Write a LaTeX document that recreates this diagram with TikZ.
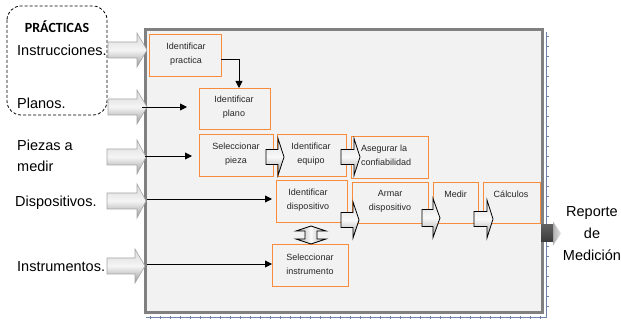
\documentclass[tikz,border=0pt]{standalone}
\usepackage{fontspec}
\setmainfont{Liberation Sans}
\newfontfamily\calib{Carlito}
\usetikzlibrary{arrows.meta}
\definecolor{obord}{RGB}{247,140,60}
\definecolor{panel}{RGB}{242,242,242}
\definecolor{rulerc}{RGB}{110,130,170}
\newcommand\barr[7]{\path[#7] (#1,#4-#5) -- (#2,#4-#5) -- (#2,#4-#6) -- (#3,#4) -- (#2,#4+#6) -- (#2,#4+#5) -- (#1,#4+#5) -- cycle;}
\tikzset{
  box/.style={draw=obord, line width=1pt, fill=panel, inner sep=0pt, anchor=north west},
  btxt/.style={font=\fontsize{9}{14}\selectfont, align=center, inner sep=0pt, text=black!85},
  ltxt/.style={font=\fontsize{14.5}{22}\selectfont, inner sep=0pt, anchor=base west},
  conn/.style={line width=0.9pt, -{Triangle[length=7pt,width=7pt]}},
  inarrow/.style={draw=gray!70, line width=0.6pt, top color=gray!30, bottom color=gray!80, middle color=gray!8},
  smarrow/.style={draw=black, line width=0.8pt, top color=gray!25, bottom color=gray!75, middle color=gray!5},
}
\begin{document}
\begin{tikzpicture}[x=1pt,y=-1pt]
\useasboundingbox (0,0) rectangle (621,320);
% ruler
\draw[rulerc, line width=0.8pt] (546,32) -- (546,317) -- (146,317);
\foreach \yy in {36,46,...,310} \draw[rulerc, line width=0.4pt] (546,\yy) -- (548.5,\yy);
\foreach \xx in {150,160,...,540} \draw[rulerc, line width=0.4pt] (\xx,315.5) -- (\xx,318.5);
% main panel
\draw[draw=gray, line width=3pt, fill=panel] (145.5,29.5) rectangle (542.5,312.5);
% dashed group
\draw[dashed, dash pattern=on 3pt off 2pt, rounded corners=14pt, line width=0.8pt] (7,6) rectangle (107,115);
\node[font=\calib\bfseries\fontsize{14}{16}\selectfont, inner sep=0pt] (prac) at (57,27) {PRÁCTICAS};
% left labels
\node[ltxt] (lins) at (17,56) {Instrucciones.};
\node[ltxt] (lpla) at (17,109) {Planos.};
\node[ltxt] (lpie) at (17,151) {Piezas a};
\node[ltxt] (lmed) at (17,172) {medir};
\node[ltxt] (ldis) at (15,207) {Dispositivos.};
\node[ltxt] (lins2) at (17,272) {Instrumentos.};
% input block arrows
\barr{108}{137}{147}{50}{8}{17}{inarrow}
\barr{108}{137}{147}{107}{8}{17}{inarrow}
\barr{107}{137}{146}{157}{8}{17}{inarrow}
\barr{107}{137}{146}{201}{8}{17}{inarrow}
\barr{107}{135}{145}{266}{8}{17}{inarrow}
% boxes
\node[box, minimum width=72pt, minimum height=42pt] (ip) at (149,34) {};
\node[box, minimum width=71pt, minimum height=41pt] (pl) at (199,88) {};
\node[box, minimum width=74pt, minimum height=42pt] (sp) at (199,134) {};
\node[box, minimum width=69pt, minimum height=42pt] (ie) at (277,134) {};
\node[box, minimum width=77pt, minimum height=42pt] (ac) at (351,136) {};
\node[box, minimum width=71pt, minimum height=42pt] (id) at (276,180) {};
\node[box, minimum width=76pt, minimum height=41pt] (ad) at (352,182) {};
\node[box, minimum width=45pt, minimum height=41pt] (me) at (433,182) {};
\node[box, minimum width=57pt, minimum height=41pt] (ca) at (483,182) {};
\node[box, minimum width=76pt, minimum height=42pt] (si) at (272,244) {};
\draw[obord, line width=1pt] (ad.south east) -- (ca.south west);
% connectors
\coordinate (c1a) at (221,59);
\coordinate (c1b) at (239,59);
\coordinate (c1c) at (239,88);
\draw[conn] (c1a) -- (c1b) -- (c1c);
\coordinate (p1) at (142,107); \coordinate (p1e) at (187,107);
\coordinate (p2) at (145,156); \coordinate (p2e) at (192,156);
\coordinate (p3) at (147,199); \coordinate (p3e) at (272,199);
\coordinate (p4) at (147,264); \coordinate (p4e) at (272,264);
\draw[conn] (p1) -- (p1e);
\draw[conn] (p2) -- (p2e);
\draw[conn] (p3) -- (p3e);
\draw[conn] (p4) -- (p4e);
% small arrows
\barr{266}{278}{284}{157}{7.5}{18.5}{smarrow}
\barr{341}{354}{360}{157}{7.5}{18.5}{smarrow}
\barr{341}{353}{359}{220}{7.5}{18}{smarrow}
\barr{422}{433}{440}{218}{8.5}{19.5}{smarrow}
\barr{474}{487}{493}{219}{7.5}{19}{smarrow}
% double arrow
\path[draw=black, line width=0.8pt, left color=gray!65, right color=gray!65, middle color=gray!5]
  (311,226) -- (326,231) -- (317,231) -- (317,239) -- (326,239) -- (311,244) -- (296,239) -- (305,239) -- (305,231) -- (296,231) -- cycle;
% output arrow
\path[left color=gray!60, right color=gray!20] (553,221.5) -- (561,233.5) -- (553,245.5) -- cycle;
\path[top color=gray!75!black, bottom color=gray!45!black] (541,225) rectangle (553,242);
% box texts
\node[btxt] (tip) at (186,54) {Identificar\\practica};
\node[btxt] (tpl) at (234,107.5) {Identificar\\plano};
\node[btxt] (tsp) at (236,154.5) {Seleccionar\\pieza};
\node[btxt] (tie) at (311,154) {Identificar\\equipo};
\node[btxt, align=left, anchor=west] (tac) at (361,155.5) {Asegurar la\\confiabilidad};
\node[btxt] (tid) at (308,200) {Identificar\\dispositivo};
\node[btxt] (tad) at (390,201) {Armar\\dispositivo};
\node[btxt] (tme) at (455.5,194) {Medir};
\node[btxt] (tca) at (511,194) {Cálculos};
\node[btxt] (tsi) at (310,264.5) {Seleccionar\\instrumento};
% output label
\node[font=\fontsize{14.5}{22}\selectfont, inner sep=0pt, anchor=base] (rep) at (592,217) {Reporte};
\node[font=\fontsize{14.5}{22}\selectfont, inner sep=0pt, anchor=base] (rde) at (592,239) {de};
\node[font=\fontsize{14.5}{22}\selectfont, inner sep=0pt, anchor=base] (rmed) at (592,261) {Medición};
\end{tikzpicture}
\end{document}
